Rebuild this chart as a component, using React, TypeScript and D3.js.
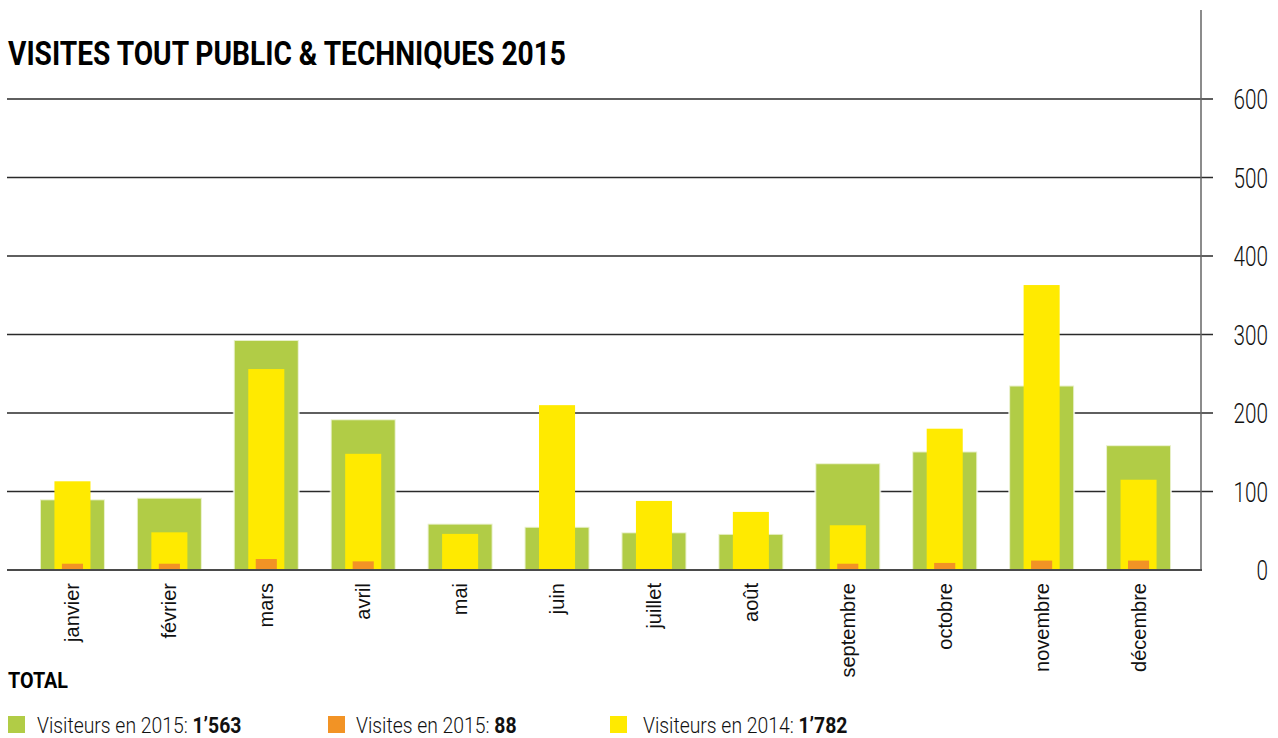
import React from "react";
import * as d3 from "d3";

const months = ["janvier", "février", "mars", "avril", "mai", "juin", "juillet", "août", "septembre", "octobre", "novembre", "décembre"];
const visitors2015 = [90, 92, 293, 192, 59, 55, 48, 46, 136, 151, 235, 159];
const visits2015 = [8, 8, 14, 11, 0, 0, 0, 0, 8, 9, 12, 12];
const visitors2014 = [113, 48, 256, 148, 46, 210, 88, 74, 57, 180, 363, 115];
const yTicks = [0, 100, 200, 300, 400, 500, 600];

const title = "VISITES TOUT PUBLIC & TECHNIQUES 2015";
const totalLabel = "TOTAL";
const legendLabels = ["Visiteurs en 2015: ", "Visites en 2015: ", "Visiteurs en 2014: "];
const legendValues = ["1’563", "88", "1’782"];

const GREEN = "#b1cc46";
const YELLOW = "#ffea00";
const ORANGE = "#f29325";
const legendColors = [GREEN, ORANGE, YELLOW];
const NARROW = "'Liberation Sans Narrow', 'Roboto', sans-serif";
const SANS = "'Liberation Sans', Arial, sans-serif";

export default function App() {
  const W = 1278;
  const H = 738;
  const x = d3.scaleBand<string>().domain(months).range([24, 1187]).paddingInner(0.33).paddingOuter(0.165);
  const y = d3.scaleLinear().domain([0, 600]).range([570, 99]);
  const bw = x.bandwidth();
  const yw = bw * 0.555;
  const ow = bw * 0.325;
  const legendX = [8, 328, 610];
  const legendTextX = [37, 356, 643];

  return (
    <svg width={W} height={H} style={{ position: "absolute", left: 0, top: 0, background: "#fff" }}>
      <text x={8} y={65} fontFamily={NARROW} fontWeight="bold" fontSize={34} fill="#000" textLength={558} lengthAdjust="spacingAndGlyphs">
        {title}
      </text>
      {yTicks.filter((t) => t > 0).map((t) => (
        <line key={t} x1={7} x2={1213} y1={y(t)} y2={y(t)} stroke="#2a2a2a" strokeWidth={1.3} />
      ))}
      <line x1={1201} x2={1201} y1={10} y2={571} stroke="#666" strokeWidth={1.5} />
      {yTicks.map((t) => (
        <text key={t} transform={`translate(1268,${y(t)}) scale(0.74,1)`} dy="0.36em" textAnchor="end" fontFamily={NARROW} fontWeight={300} fontSize={28} fill="#111">
          {t}
        </text>
      ))}
      {months.map((m, i) => {
        const x0 = x(m)!;
        const c = x0 + bw / 2;
        return (
          <g key={m}>
            <rect x={x0} y={y(visitors2015[i])} width={bw} height={y(0) - y(visitors2015[i])} fill={GREEN} stroke="#fff" strokeOpacity={0.7} strokeWidth={2} />
            <rect x={c - yw / 2} y={y(visitors2014[i])} width={yw} height={y(0) - y(visitors2014[i])} fill={YELLOW} />
            {visits2015[i] > 0 && (
              <rect x={c - ow / 2} y={y(visits2015[i])} width={ow} height={y(0) - y(visits2015[i])} fill={ORANGE} />
            )}
          </g>
        );
      })}
      <line x1={7} x2={1202} y1={y(0)} y2={y(0)} stroke="#4a4a4a" strokeWidth={2} />
      {months.map((m) => {
        const c = x(m)! + bw / 2;
        return (
          <text key={m} transform={`translate(${c},583) rotate(-90)`} textAnchor="end" dy="0.35em" fontFamily={SANS} fontSize={20} fill="#111">
            {m}
          </text>
        );
      })}
      <text x={8} y={688} fontFamily={NARROW} fontWeight="bold" fontSize={22} fill="#000" textLength={60} lengthAdjust="spacingAndGlyphs">
        {totalLabel}
      </text>
      {legendLabels.map((l, i) => (
        <g key={l}>
          <rect x={legendX[i]} y={716} width={17} height={17} fill={legendColors[i]} />
          <text transform={`translate(${legendTextX[i]},733) scale(0.88,1)`} fontFamily={NARROW} fontWeight={300} fontSize={22} fill="#111">
            {l}
            <tspan fontWeight="bold">{legendValues[i]}</tspan>
          </text>
        </g>
      ))}
    </svg>
  );
}
